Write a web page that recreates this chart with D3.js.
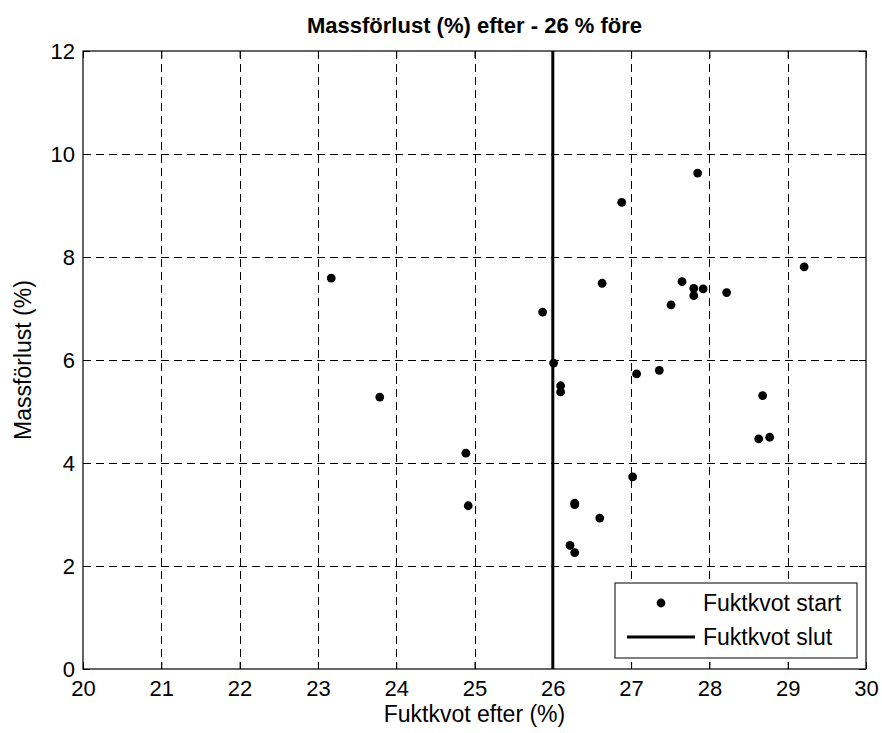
<!DOCTYPE html>
<html>
<head>
<meta charset="utf-8">
<script src="https://cdn.jsdelivr.net/npm/d3@7"></script>
<style>
  body { margin: 0; background: #fff; }
  svg text { font-family: "Liberation Sans", Arial, sans-serif; fill: #000; }
</style>
</head>
<body>
<svg width="882" height="733"></svg>
<script>
// data
var fuktkvot = [23.17, 23.79, 24.89, 24.92, 25.87, 26.01, 26.10, 26.10, 26.22, 26.28,
                26.28, 26.28, 26.60, 27.02, 26.63, 26.88, 27.85, 27.65, 27.80, 27.92,
                27.80, 27.51, 28.22, 29.21, 28.68, 28.63, 28.77, 27.07, 27.36];
var massforlust = [7.59, 5.28, 4.19, 3.17, 6.93, 5.94, 5.50, 5.38, 2.40, 2.26,
                   3.22, 3.19, 2.93, 3.73, 7.49, 9.06, 9.63, 7.52, 7.39, 7.38,
                   7.25, 7.07, 7.31, 7.81, 5.31, 4.47, 4.50, 5.73, 5.80];
var grans = 26;
var xTicks = [20, 21, 22, 23, 24, 25, 26, 27, 28, 29, 30];
var yTicks = [0, 2, 4, 6, 8, 10, 12];
var legendLabels = ['Fuktkvot start', 'Fuktkvot slut'];

var svg = d3.select('svg'),
    margin = {top: 51, right: 16, bottom: 64, left: 83},
    width = +svg.attr('width') - margin.left - margin.right,
    height = +svg.attr('height') - margin.top - margin.bottom;

var x = d3.scaleLinear().domain([20, 30]).range([0, width]),
    y = d3.scaleLinear().domain([0, 12]).range([height, 0]);

var g = svg.append('g')
    .attr('transform', 'translate(' + margin.left + ',' + margin.top + ')');

// dashed grid
g.append('g').selectAll('line')
  .data(xTicks.slice(1, -1))
  .enter().append('line')
    .attr('x1', function(d) { return Math.round(x(d)) + 0.5; })
    .attr('x2', function(d) { return Math.round(x(d)) + 0.5; })
    .attr('y1', 0).attr('y2', height)
    .attr('stroke', '#000').attr('stroke-dasharray', '8,5');
g.append('g').selectAll('line')
  .data(yTicks.slice(1, -1))
  .enter().append('line')
    .attr('y1', function(d) { return Math.round(y(d)) + 0.5; })
    .attr('y2', function(d) { return Math.round(y(d)) + 0.5; })
    .attr('x1', 0).attr('x2', width)
    .attr('stroke', '#000').attr('stroke-dasharray', '8,5');

// axes, ticks pointing inward
function styleAxis(sel) {
  sel.select('.domain').remove();
  sel.selectAll('text').style('font-size', '22px');
  sel.selectAll('line').attr('stroke', '#000');
}
g.append('g')
    .attr('transform', 'translate(0,' + height + ')')
    .call(d3.axisBottom(x).tickValues(xTicks).tickSizeInner(-7).tickSizeOuter(0).tickPadding(11))
    .call(styleAxis);
g.append('g')
    .call(d3.axisTop(x).tickValues(xTicks).tickSizeInner(-7).tickSizeOuter(0).tickFormat(''))
    .call(styleAxis);
g.append('g')
    .call(d3.axisLeft(y).tickValues(yTicks).tickSizeInner(-7).tickSizeOuter(0).tickPadding(8))
    .call(styleAxis);
g.append('g')
    .attr('transform', 'translate(' + width + ',0)')
    .call(d3.axisRight(y).tickValues(yTicks).tickSizeInner(-7).tickSizeOuter(0).tickFormat(''))
    .call(styleAxis);

g.append('rect')
    .attr('x', 0).attr('y', 0)
    .attr('width', width).attr('height', height)
    .attr('fill', 'none').attr('stroke', '#000').attr('stroke-width', 1.2);

// the 26 % line
g.append('line')
    .attr('x1', x(grans)).attr('x2', x(grans))
    .attr('y1', y(0)).attr('y2', y(12))
    .attr('stroke', '#000').attr('stroke-width', 3);

// points
g.selectAll('.dot')
  .data(fuktkvot)
  .enter().append('circle')
    .attr('class', 'dot')
    .attr('cx', function(d) { return x(d); })
    .attr('cy', function(d, i) { return y(massforlust[i]); })
    .attr('r', 4.4)
    .attr('fill', '#000');

// titles
svg.append('text')
    .attr('x', margin.left + width / 2).attr('y', 33)
    .attr('text-anchor', 'middle')
    .style('font-size', '22px').style('font-weight', 'bold')
    .text('Massförlust (%) efter - 26 % före');
svg.append('text')
    .attr('x', margin.left + width / 2).attr('y', 722)
    .attr('text-anchor', 'middle')
    .style('font-size', '23px')
    .text('Fuktkvot efter (%)');
svg.append('text')
    .attr('transform', 'translate(31,' + (margin.top + height / 2) + ') rotate(-90)')
    .attr('text-anchor', 'middle')
    .style('font-size', '23px')
    .text('Massförlust (%)');

// legend
var leg = svg.append('g').attr('transform', 'translate(615,583)');
leg.append('rect')
    .attr('width', 242).attr('height', 75)
    .attr('fill', '#fff').attr('stroke', '#000');
leg.append('circle').attr('cx', 46).attr('cy', 20).attr('r', 4.4).attr('fill', '#000');
leg.append('line')
    .attr('x1', 12).attr('x2', 80).attr('y1', 54).attr('y2', 54)
    .attr('stroke', '#000').attr('stroke-width', 3);
leg.selectAll('.lab')
  .data(legendLabels)
  .enter().append('text')
    .attr('class', 'lab')
    .attr('x', 88)
    .attr('y', function(d, i) { return 20 + i * 34; })
    .attr('dy', '0.35em')
    .style('font-size', '23px')
    .text(function(d) { return d; });
</script>
</body>
</html>
